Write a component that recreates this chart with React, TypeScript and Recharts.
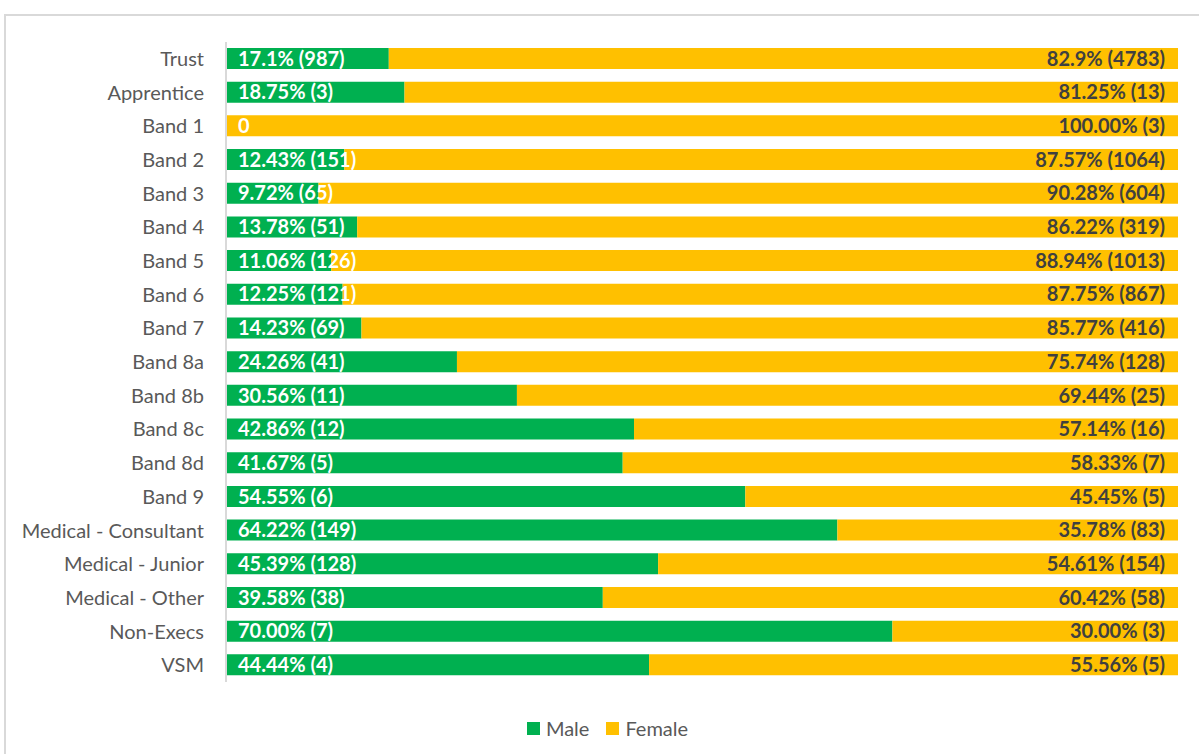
import { BarChart, Bar, XAxis, YAxis, LabelList } from "recharts";

const GREEN = "#00B050";
const YELLOW = "#FFC000";
const AXIS_TEXT = "#595959";
const DARK_LABEL = "#404040";
const FRAME = "#d9d9d9";
const FONT = "Lato, 'Open Sans', sans-serif";

const categories = [
  "Trust", "Apprentice", "Band 1", "Band 2", "Band 3", "Band 4", "Band 5", "Band 6", "Band 7",
  "Band 8a", "Band 8b", "Band 8c", "Band 8d", "Band 9", "Medical - Consultant", "Medical - Junior",
  "Medical - Other", "Non-Execs", "VSM",
];

const malePct = [
  17.1, 18.75, 0, 12.43, 9.72, 13.78, 11.06, 12.25, 14.23,
  24.26, 30.56, 42.86, 41.67, 54.55, 64.22, 45.39, 39.58, 70.0, 44.44,
];

const femalePct = [
  82.9, 81.25, 100, 87.57, 90.28, 86.22, 88.94, 87.75, 85.77,
  75.74, 69.44, 57.14, 58.33, 45.45, 35.78, 54.61, 60.42, 30.0, 55.56,
];

const maleLabels = [
  "17.1% (987)", "18.75% (3)", "0", "12.43% (151)", "9.72% (65)", "13.78% (51)", "11.06% (126)",
  "12.25% (121)", "14.23% (69)", "24.26% (41)", "30.56% (11)", "42.86% (12)", "41.67% (5)",
  "54.55% (6)", "64.22% (149)", "45.39% (128)", "39.58% (38)", "70.00% (7)", "44.44% (4)",
];

const femaleLabels = [
  "82.9% (4783)", "81.25% (13)", "100.00% (3)", "87.57% (1064)", "90.28% (604)", "86.22% (319)",
  "88.94% (1013)", "87.75% (867)", "85.77% (416)", "75.74% (128)", "69.44% (25)", "57.14% (16)",
  "58.33% (7)", "45.45% (5)", "35.78% (83)", "54.61% (154)", "60.42% (58)", "30.00% (3)", "55.56% (5)",
];

const legendItems = [
  { label: "Male", color: GREEN },
  { label: "Female", color: YELLOW },
];

const data = categories.map((name, i) => ({
  name,
  male: malePct[i],
  female: femalePct[i],
  maleLabel: maleLabels[i],
  femaleLabel: femaleLabels[i],
}));

const LABEL_SIZE = 20;

function MaleLabel(props: any) {
  const { x, y, height, value } = props;
  return (
    <text x={x + 12} y={y + height / 2} dy="0.36em" fill="#fff" fontSize={LABEL_SIZE} fontWeight={700} fontFamily={FONT}>
      {value}
    </text>
  );
}

function FemaleLabel(props: any) {
  const { x, y, width, height, value, index } = props;
  // a zero-width male bar gets no label of its own, so draw it here
  const zeroMale = malePct[index] === 0;
  return (
    <g>
      {zeroMale ? (
        <text x={x + 12} y={y + height / 2} dy="0.36em" fill="#fff" fontSize={LABEL_SIZE} fontWeight={700} fontFamily={FONT}>
          {maleLabels[index]}
        </text>
      ) : null}
      <text x={x + width - 13} y={y + height / 2} dy="0.36em" textAnchor="end" fill={DARK_LABEL} fontSize={LABEL_SIZE} fontWeight={700} fontFamily={FONT}>
        {value}
      </text>
    </g>
  );
}

export default function App() {
  return (
    <div style={{ position: "absolute", top: 0, left: 0, width: 1199, height: 754, background: "#fff", overflow: "hidden" }}>
      <div style={{ position: "absolute", top: 14, left: 4, width: 1300, height: 800, border: `2px solid ${FRAME}` }} />
      <div style={{ position: "absolute", top: 0, left: 0 }}>
        <BarChart
          width={1199}
          height={754}
          data={data}
          layout="vertical"
          margin={{ top: 42, right: 21, bottom: 72, left: 5 }}
          barSize={21}
        >
          <XAxis type="number" domain={[0, 100]} hide />
          <YAxis
            type="category"
            dataKey="name"
            width={221}
            axisLine={{ stroke: FRAME, strokeWidth: 2 }}
            tickLine={false}
            tickSize={6}
            tickMargin={16}
            tick={{ fill: AXIS_TEXT, fontSize: 20, fontFamily: FONT }}
            interval={0}
          />
          <Bar dataKey="male" name="Male" stackId="a" fill={GREEN} isAnimationActive={false}>
            <LabelList dataKey="maleLabel" content={<MaleLabel />} />
          </Bar>
          <Bar dataKey="female" name="Female" stackId="a" fill={YELLOW} isAnimationActive={false}>
            <LabelList dataKey="femaleLabel" content={<FemaleLabel />} />
          </Bar>
        </BarChart>
      </div>
      {/* legend */}
      <div
        style={{
          position: "absolute", top: 716, left: 8, width: 1199, display: "flex", justifyContent: "center",
          gap: 17, fontFamily: FONT, fontSize: 20, color: AXIS_TEXT, lineHeight: "24px",
        }}
      >
        {legendItems.map((it) => (
          <div key={it.label} style={{ display: "flex", alignItems: "center", gap: 6 }}>
            <span style={{ width: 13, height: 13, background: it.color, display: "inline-block" }} />
            <span>{it.label}</span>
          </div>
        ))}
      </div>
    </div>
  );
}
